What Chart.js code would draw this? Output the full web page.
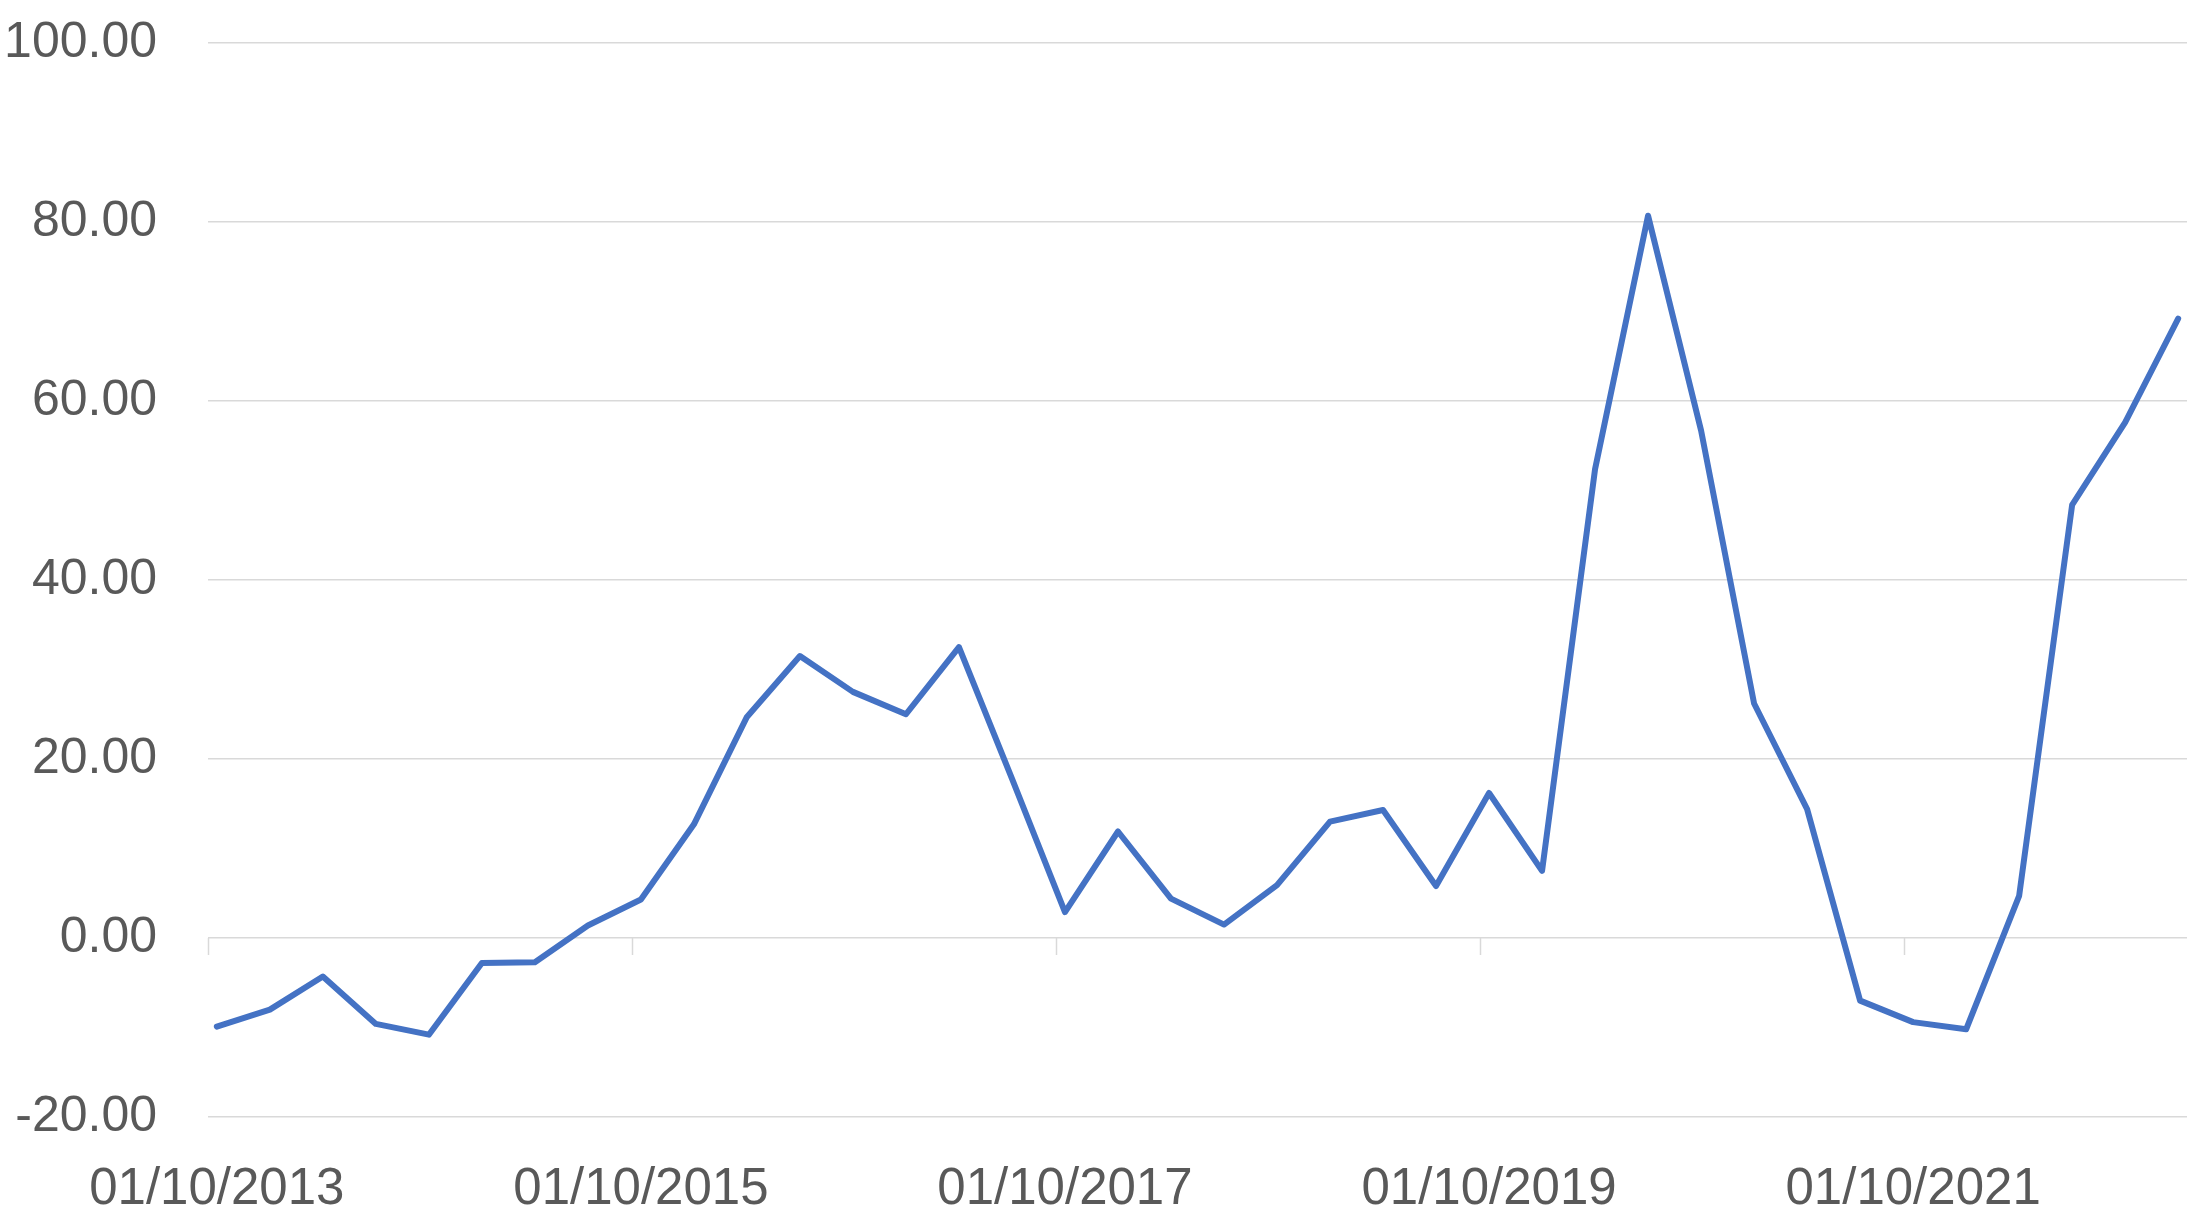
<!DOCTYPE html>
<html>
<head>
<meta charset="utf-8">
<script src="https://cdn.jsdelivr.net/npm/chart.js@4/dist/chart.umd.min.js"></script>
<style>
  html, body { margin: 0; padding: 0; background: #ffffff; }
  #wrap { width: 2197px; height: 1224px; }
</style>
</head>
<body>
<div id="wrap"><canvas id="c" width="2197" height="1224"></canvas></div>
<script>
const categories = [
  "01/10/2013","01/01/2014","01/04/2014","01/07/2014",
  "01/10/2014","01/01/2015","01/04/2015","01/07/2015",
  "01/10/2015","01/01/2016","01/04/2016","01/07/2016",
  "01/10/2016","01/01/2017","01/04/2017","01/07/2017",
  "01/10/2017","01/01/2018","01/04/2018","01/07/2018",
  "01/10/2018","01/01/2019","01/04/2019","01/07/2019",
  "01/10/2019","01/01/2020","01/04/2020","01/07/2020",
  "01/10/2020","01/01/2021","01/04/2021","01/07/2021",
  "01/10/2021","01/01/2022","01/04/2022","01/07/2022",
  "01/10/2022","01/01/2023"
];
const values = [
  -9.9, -8.0, -4.3, -9.6,
  -10.8, -2.8, -2.7, 1.4,
  4.3, 12.7, 24.7, 31.5,
  27.5, 25.0, 32.5, 17.8,
  2.9, 11.9, 4.4, 1.5,
  5.9, 13.0, 14.3, 5.8,
  16.2, 7.5, 52.4, 80.7,
  56.7, 26.2, 14.4, -7.0,
  -9.4, -10.2, 4.7, 48.4,
  57.6, 69.2
];
const tickLabels = ["01/10/2013","01/10/2015","01/10/2017","01/10/2019","01/10/2021"];
const yTicks = [-20, 0, 20, 40, 60, 80, 100];

// month offset from the first category (date axis with month base unit)
function monthOffset(s) {
  const p = s.split("/");
  const m = parseInt(p[1], 10), y = parseInt(p[2], 10);
  const p0 = categories[0].split("/");
  return (y - parseInt(p0[2], 10)) * 12 + (m - parseInt(p0[1], 10));
}
const points = categories.map((c, i) => ({ x: monthOffset(c) + 0.5, y: values[i] }));
const xMax = monthOffset(categories[categories.length - 1]) + 1;

const FONT = "'Liberation Sans', Arial, sans-serif";
const GRID = "#d9d9d9";

const tickMarks = {
  id: 'tickMarks',
  beforeDatasetsDraw(chart) {
    const xs = chart.scales.x, ys = chart.scales.y;
    const ctx = chart.ctx;
    const y0 = ys.getPixelForValue(0);
    ctx.save();
    ctx.strokeStyle = GRID;
    ctx.lineWidth = 1.5;
    tickLabels.forEach(l => {
      const px = Math.round(xs.getPixelForValue(monthOffset(l))) + 0.5;
      ctx.beginPath();
      ctx.moveTo(px, y0);
      ctx.lineTo(px, y0 + 17);
      ctx.stroke();
    });
    ctx.restore();
  }
};

new Chart(document.getElementById('c'), {
  type: 'line',
  data: {
    datasets: [{
      data: points,
      borderColor: '#4472C4',
      borderWidth: 6,
      pointRadius: 0,
      tension: 0,
      fill: false,
      borderCapStyle: 'round',
      borderJoinStyle: 'round'
    }]
  },
  options: {
    responsive: false,
    animation: false,
    devicePixelRatio: 1,
    layout: { padding: { left: 0, right: 10, top: 43, bottom: 0 } },
    plugins: { legend: { display: false }, tooltip: { enabled: false } },
    scales: {
      x: {
        type: 'linear',
        min: 0,
        max: xMax,
        grid: { display: false, drawTicks: false },
        border: { display: false },
        afterBuildTicks(scale) {
          scale.ticks = tickLabels.map(l => ({ value: monthOffset(l) + 0.5 }));
        },
        afterFit(scale) {
          scale.height = 107;
          scale.paddingLeft = 0; scale.paddingRight = 0;
        },
        ticks: {
          autoSkip: false,
          maxRotation: 0,
          minRotation: 0,
          padding: 42,
          color: '#595959',
          font: { family: FONT, size: 51 },
          callback(value) {
            const l = tickLabels.find(t => Math.abs(monthOffset(t) + 0.5 - value) < 0.01);
            return l || '';
          }
        }
      },
      y: {
        min: -20,
        max: 100,
        grid: { color: GRID, lineWidth: 1.5, drawTicks: false },
        border: { display: false },
        afterBuildTicks(scale) {
          scale.ticks = yTicks.map(v => ({ value: v }));
        },
        afterFit(scale) {
          scale.width = 208;
          scale.paddingTop = 0; scale.paddingBottom = 0;
        },
        ticks: {
          padding: 51,
          color: '#595959',
          font: { family: FONT, size: 50 },
          callback(v) { return Number(v).toFixed(2); }
        }
      }
    }
  },
  plugins: [tickMarks]
});
</script>
</body>
</html>
